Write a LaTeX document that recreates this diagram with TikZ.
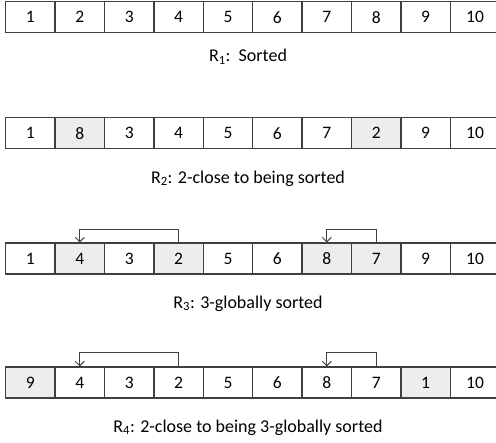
\documentclass[tikz,border=0pt]{standalone}
\usepackage{fontspec}
\setmainfont{Carlito}
\usetikzlibrary{arrows.meta}
\definecolor{edge}{HTML}{404040}
\definecolor{shade}{HTML}{EDEDED}
\tikzset{
  cell/.style={draw=edge, line width=1.4pt, minimum width=49.4pt, minimum height=31pt,
    inner sep=0pt, anchor=north west, font=\fontsize{17.5}{20}\selectfont},
  hl/.style={fill=shade},
  caption/.style={font=\fontsize{18}{20}\selectfont, inner sep=0pt},
  swap/.style={draw=edge, line width=1pt, -{Straight Barb[length=4.5pt,width=9pt,line width=1pt]}}
}
% one row of ten cells: #1 = row name, #2 = top edge, #3 = list of value/style pairs
\newcommand{\cellrow}[3]{%
  \foreach \v/\s [count=\i] in {#3} {
    \node[cell,\s] (#1c\i) at ({5+49.4*(\i-1)}, #2) {\v};
  }%
}
\begin{document}
\begin{tikzpicture}[x=1pt, y=-1pt]
\useasboundingbox (0,0) rectangle (496,443);

\cellrow{ra}{1}{1/{},2/{},3/{},4/{},5/{},6/{},7/{},8/{},9/{},10/{}}
\node[caption] (capa) at (248,56.5) {R\textsubscript{1}:\ \ Sorted};

\cellrow{rb}{117}{1/{},8/hl,3/{},4/{},5/{},6/{},7/{},2/hl,9/{},10/{}}
\node[caption] (capb) at (248,178.5) {R\textsubscript{2}: 2-close to being sorted};

\cellrow{rc}{242.5}{1/{},4/hl,3/{},2/hl,5/{},6/{},8/hl,7/hl,9/{},10/{}}
\node[caption] (capc) at (248,303.5) {R\textsubscript{3}: 3-globally sorted};
\draw[swap] (rcc4.north) -- ++(0,-12.5) -| (rcc2.north);
\draw[swap] (rcc8.north) -- ++(0,-12.5) -| (rcc7.north);

\cellrow{rd}{366.5}{9/hl,4/{},3/{},2/{},5/{},6/{},8/{},7/{},1/hl,10/{}}
\node[caption] (capd) at (248,427.5) {R\textsubscript{4}: 2-close to being 3-globally sorted};
\draw[swap] (rdc4.north) -- ++(0,-13.5) -| (rdc2.north);
\draw[swap] (rdc8.north) -- ++(0,-13.5) -| (rdc7.north);
\end{tikzpicture}
\end{document}
